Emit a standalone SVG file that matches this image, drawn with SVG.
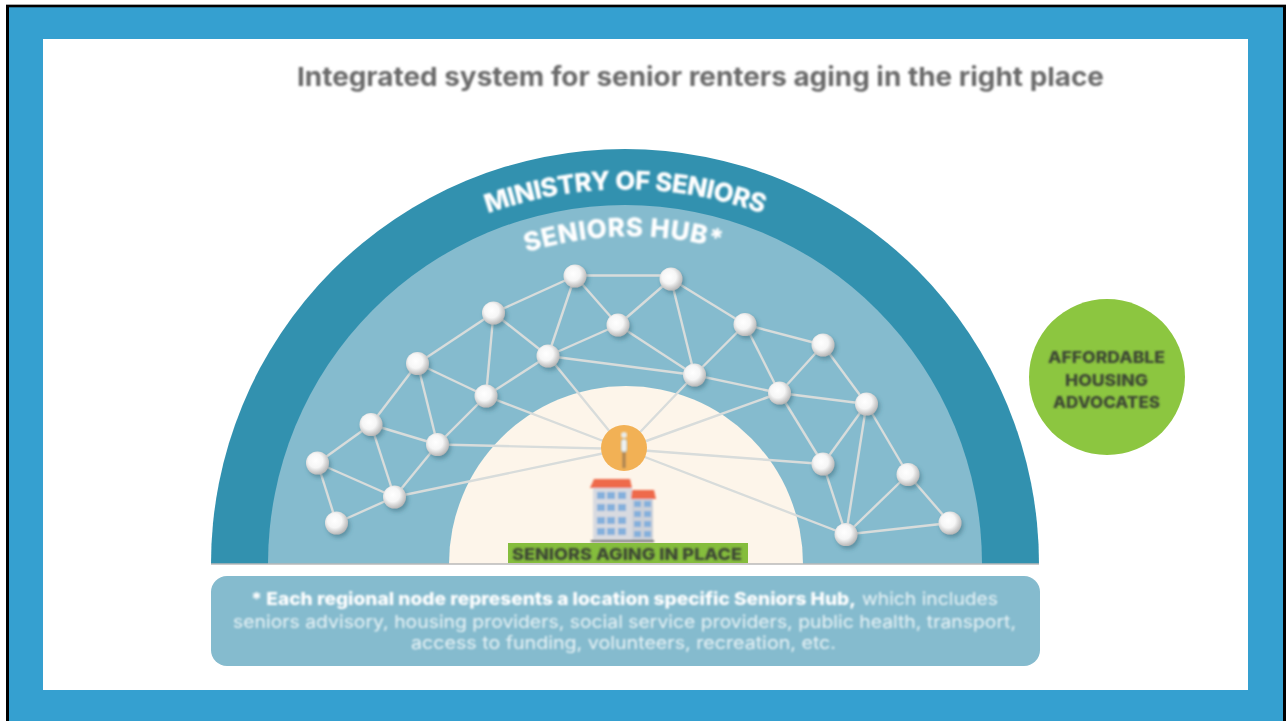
<svg xmlns="http://www.w3.org/2000/svg" width="1286" height="721" viewBox="0 0 1286 721">
<defs>
<radialGradient id="ball" cx="0.42" cy="0.4" r="0.62"><stop offset="0" stop-color="#ffffff"/><stop offset="0.5" stop-color="#f6f6f6"/><stop offset="1" stop-color="#b5b5b5"/></radialGradient>
<filter id="soft" x="-5%" y="-20%" width="110%" height="140%"><feGaussianBlur stdDeviation="0.8"/></filter>
<filter id="blur" x="-2%" y="-2%" width="104%" height="104%"><feGaussianBlur stdDeviation="0.7"/></filter>
<filter id="shadow" x="-50%" y="-50%" width="200%" height="200%"><feDropShadow dx="2" dy="3" stdDeviation="2" flood-color="#2c5d70" flood-opacity="0.45"/></filter>
<path id="arc1" d="M 478 217 Q 625 162 772 217"/>
<path id="arc2" d="M 515 256 Q 625 219 733 252"/>
</defs>
<style>
.n circle{fill:url(#ball);filter:url(#shadow)}
#connectors line{stroke:#d8dcdb;stroke-width:2.400}
.arc{fill:#fff;font-weight:800;font-family:"Inter","Liberation Sans",sans-serif}
.note{font-family:"Inter","Liberation Sans",sans-serif;font-size:17.500px;fill:#eaf4f7}
.dark{font-family:"Inter","Liberation Sans",sans-serif;font-weight:800;fill:#3c4634;text-anchor:start}
</style>
<rect width="1286" height="721" fill="#ffffff"/>
<rect x="6" y="4" width="1280" height="1" fill="#a8a8a8"/>
<rect x="6" y="5" width="1280" height="716" fill="#000000"/>
<rect x="9" y="7.300" width="1274" height="714" fill="#35a0d0"/>
<rect x="43" y="39" width="1205" height="651" fill="#ffffff"/>
<text x="297" y="86" font-family="Inter, 'Liberation Sans', sans-serif" font-size="26" font-weight="700" fill="#6b6b6b" textLength="807" lengthAdjust="spacingAndGlyphs" filter="url(#soft)">Integrated system for senior renters aging in the right place</text>
<g id="ministry"><path d="M211 564 A414 415 0 0 1 1039 564 Z" fill="#3291af" filter="url(#blur)"/>
<text class="arc" font-size="26" letter-spacing="-0.600" filter="url(#soft)"><textPath href="#arc1" startOffset="50%" text-anchor="middle">MINISTRY OF SENIORS</textPath></text></g>
<g id="hub"><path d="M268 564 A357 359 0 0 1 982 564 Z" fill="#85bbce" filter="url(#blur)"/>
<text class="arc" font-size="26" letter-spacing="0.500" filter="url(#soft)"><textPath href="#arc2" startOffset="50%" text-anchor="middle">SENIORS HUB*</textPath></text></g>
<g id="place"><path d="M449 564 A177 178 0 0 1 803 564 Z" fill="#fdf5ea" filter="url(#blur)"/></g>
<line x1="211" y1="564" x2="1039" y2="564" stroke="#b9b9b9" stroke-width="1.500"/>
<g id="connectors" filter="url(#blur)">
<line x1="317.500" y1="463" x2="371" y2="424.500"/><line x1="317.500" y1="463" x2="394.500" y2="497"/><line x1="317.500" y1="463" x2="336.500" y2="523"/><line x1="336.500" y1="523" x2="394.500" y2="497"/><line x1="371" y1="424.500" x2="394.500" y2="497"/><line x1="371" y1="424.500" x2="437.500" y2="444.500"/><line x1="371" y1="424.500" x2="417.500" y2="363.500"/><line x1="394.500" y1="497" x2="437.500" y2="444.500"/><line x1="394.500" y1="497" x2="624" y2="449"/><line x1="417.500" y1="363.500" x2="437.500" y2="444.500"/><line x1="417.500" y1="363.500" x2="486" y2="396"/><line x1="417.500" y1="363.500" x2="493.500" y2="313"/><line x1="437.500" y1="444.500" x2="486" y2="396"/><line x1="437.500" y1="444.500" x2="624" y2="449"/><line x1="486" y1="396" x2="493.500" y2="313"/><line x1="486" y1="396" x2="548" y2="356"/><line x1="486" y1="396" x2="624" y2="449"/><line x1="493.500" y1="313" x2="548" y2="356"/><line x1="493.500" y1="313" x2="575" y2="276"/><line x1="548" y1="356" x2="575" y2="276"/><line x1="548" y1="356" x2="618" y2="325"/><line x1="548" y1="356" x2="694.500" y2="375"/><line x1="548" y1="356" x2="624" y2="449"/><line x1="575" y1="276" x2="618" y2="325"/><line x1="575" y1="275.500" x2="671" y2="275.500"/><line x1="618" y1="325" x2="671" y2="279"/><line x1="618" y1="325" x2="694.500" y2="375"/><line x1="671" y1="279" x2="694.500" y2="375"/><line x1="671" y1="279" x2="745" y2="324.500"/><line x1="694.500" y1="375" x2="745" y2="324.500"/><line x1="694.500" y1="375" x2="779.500" y2="393"/><line x1="694.500" y1="375" x2="624" y2="449"/><line x1="745" y1="324.500" x2="779.500" y2="393"/><line x1="745" y1="324.500" x2="823" y2="345"/><line x1="779.500" y1="393" x2="823" y2="345"/><line x1="779.500" y1="393" x2="866.500" y2="404"/><line x1="779.500" y1="393" x2="823" y2="464"/><line x1="779.500" y1="393" x2="624" y2="449"/><line x1="823" y1="345" x2="866.500" y2="404"/><line x1="866.500" y1="404" x2="823" y2="464"/><line x1="866.500" y1="404" x2="908" y2="474.500"/><line x1="866.500" y1="404" x2="846" y2="534.500"/><line x1="823" y1="464" x2="846" y2="534.500"/><line x1="823" y1="464" x2="624" y2="449"/><line x1="908" y1="474.500" x2="846" y2="534.500"/><line x1="908" y1="474.500" x2="950" y2="523"/><line x1="846" y1="534.500" x2="950" y2="523"/><line x1="846" y1="534.500" x2="624" y2="449"/>
</g>
<g id="nodes">
<g class="n" id="n1"><circle cx="317.500" cy="463" r="11.500"/></g>
<g class="n" id="n2"><circle cx="336.500" cy="523" r="11.500"/></g>
<g class="n" id="n3"><circle cx="371" cy="424.500" r="11.500"/></g>
<g class="n" id="n4"><circle cx="394.500" cy="497" r="11.500"/></g>
<g class="n" id="n5"><circle cx="417.500" cy="363.500" r="11.500"/></g>
<g class="n" id="n6"><circle cx="437.500" cy="444.500" r="11.500"/></g>
<g class="n" id="n7"><circle cx="486" cy="396" r="11.500"/></g>
<g class="n" id="n8"><circle cx="493.500" cy="313" r="11.500"/></g>
<g class="n" id="n9"><circle cx="548" cy="356" r="11.500"/></g>
<g class="n" id="n10"><circle cx="575" cy="276" r="11.500"/></g>
<g class="n" id="n11"><circle cx="618" cy="325" r="11.500"/></g>
<g class="n" id="n12"><circle cx="671" cy="279" r="11.500"/></g>
<g class="n" id="n13"><circle cx="694.500" cy="375" r="11.500"/></g>
<g class="n" id="n14"><circle cx="745" cy="324.500" r="11.500"/></g>
<g class="n" id="n15"><circle cx="779.500" cy="393" r="11.500"/></g>
<g class="n" id="n16"><circle cx="823" cy="345" r="11.500"/></g>
<g class="n" id="n17"><circle cx="866.500" cy="404" r="11.500"/></g>
<g class="n" id="n18"><circle cx="823" cy="464" r="11.500"/></g>
<g class="n" id="n19"><circle cx="908" cy="474.500" r="11.500"/></g>
<g class="n" id="n20"><circle cx="846" cy="534.500" r="11.500"/></g>
<g class="n" id="n21"><circle cx="950" cy="523" r="11.500"/></g>
</g>
<g id="senior"><circle cx="624" cy="448" r="23" fill="#f2b155" filter="url(#blur)"/>
<g filter="url(#soft)"><rect x="622.500" y="452" width="3" height="16" fill="#a88253"/><circle cx="624" cy="435" r="3" fill="#e8ecec"/><rect x="621" y="439" width="6" height="13" rx="2.500" fill="#eef2f2" stroke="#9aa49a" stroke-width="0.600"/></g></g>
<g id="building" filter="url(#soft)">
<rect x="593" y="487" width="39" height="55" fill="#d8dae0"/><rect x="632" y="497" width="21" height="45" fill="#ccd0d8"/>
<path d="M590 488 L594 479 L630 479 L632 488 Z" fill="#ee6b4c"/><path d="M631 499 L632 490 L654 490 L656 499 Z" fill="#ee6b4c"/>
<g fill="#84b0dc"><rect x="597" y="492" width="8" height="7"/><rect x="607" y="492" width="8" height="7"/><rect x="618" y="492" width="8" height="7"/><rect x="597" y="504" width="8" height="7"/><rect x="607" y="504" width="8" height="7"/><rect x="618" y="504" width="8" height="7"/><rect x="597" y="517" width="8" height="7"/><rect x="607" y="517" width="8" height="7"/><rect x="618" y="517" width="8" height="7"/><rect x="597" y="528" width="8" height="7"/><rect x="607" y="528" width="8" height="7"/><rect x="618" y="528" width="8" height="7"/><rect x="634" y="501" width="7" height="6"/><rect x="644" y="501" width="7" height="6"/><rect x="634" y="511" width="7" height="6"/><rect x="644" y="511" width="7" height="6"/><rect x="634" y="521" width="7" height="6"/><rect x="644" y="521" width="7" height="6"/><rect x="634" y="531" width="7" height="6"/><rect x="644" y="531" width="7" height="6"/></g>
<rect x="591" y="540" width="63" height="2" fill="#5a5a5a"/></g>
<g id="label"><rect x="508" y="543" width="240" height="20" fill="#85bd3c" filter="url(#blur)"/>
<text class="dark" x="512" y="559.500" font-size="16" textLength="230" lengthAdjust="spacingAndGlyphs" filter="url(#soft)">SENIORS AGING IN PLACE</text></g>
<g id="advocates"><circle cx="1107" cy="377" r="78" fill="#8cc63f" filter="url(#blur)"/>
<g filter="url(#soft)">
<text class="dark" x="1048" y="363" font-size="16" textLength="117" lengthAdjust="spacingAndGlyphs">AFFORDABLE</text>
<text class="dark" x="1065" y="386" font-size="16" textLength="83" lengthAdjust="spacingAndGlyphs">HOUSING</text>
<text class="dark" x="1053" y="408" font-size="16" textLength="107" lengthAdjust="spacingAndGlyphs">ADVOCATES</text>
</g></g>
<g id="note"><rect x="211" y="576" width="829" height="90" rx="16" fill="#85bbce" filter="url(#blur)"/>
<g class="note" filter="url(#soft)">
<text x="251" y="605" font-weight="800" fill="#ffffff" textLength="605" lengthAdjust="spacingAndGlyphs">* Each regional node represents a location specific Seniors Hub,</text>
<text x="862" y="605" textLength="136" lengthAdjust="spacingAndGlyphs">which includes</text>
<text x="233" y="628" textLength="783" lengthAdjust="spacingAndGlyphs">seniors advisory, housing providers, social service providers, public health, transport,</text>
<text x="411" y="649" textLength="425" lengthAdjust="spacingAndGlyphs">access to funding, volunteers, recreation, etc.</text>
</g></g>
</svg>
